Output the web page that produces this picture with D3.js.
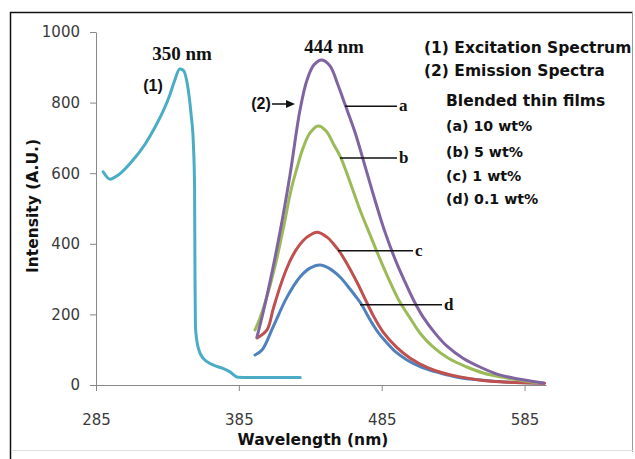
<!DOCTYPE html>
<html>
<head>
<meta charset="utf-8">
<script src="https://cdn.jsdelivr.net/npm/d3@7"></script>
<style>
  body { margin: 0; background: #fff; }
  svg { display: block; }
</style>
</head>
<body>
<script>
// (1) excitation spectrum
const excWl  = [290, 294.8, 300.6, 310, 319, 326, 333, 336.6, 340, 343.6, 346, 349.4, 351.5, 353.2, 354.0, 354.3, 354.6, 356.4, 359.9, 366.9, 373.8, 378.5, 384.3, 392.5, 428]
const excVal = [604, 583, 595, 633, 680, 728, 785, 821, 862, 895, 892, 841, 770, 680, 560, 300, 165, 108, 76, 57, 47, 38, 22, 21, 21]

// (2) emission spectra, blended thin films
const aWl  = [397.7, 401.9, 406.8, 413.8, 420.8, 427.8, 432.7, 437.6, 443.2, 448.8, 454.4, 459.3, 466.3, 471.9, 478.2, 485.9, 490.8, 495.7, 501.3, 507.6, 513.9, 522.3, 530.7, 541.9, 553.8, 565.7, 576.9, 598]
const aVal = [136, 204, 292, 433, 595, 779, 864, 907, 921, 904, 850, 795, 716, 640, 552, 450, 394, 343, 292, 238, 193, 147, 110, 76, 51, 31, 20, 6]

const bWl  = [396.3, 399.8, 405.4, 411.0, 416.6, 421.5, 425.7, 429.9, 434.8, 440.4, 446.0, 451.6, 456.5, 462.8, 469.8, 477.5, 481.7, 490.8, 497, 504.8, 512, 520.9, 532, 544.7, 556, 567.8, 593.7]
const bVal = [156, 190, 261, 348, 453, 552, 615, 671, 714, 734, 720, 680, 643, 575, 496, 419, 377, 292, 240, 190, 146, 108, 75, 51, 34, 23, 6]

const cWl  = [397.7, 404.7, 409, 413.8, 418.5, 422.9, 427.5, 432.7, 439.7, 446.7, 451, 455.8, 461.5, 467.7, 473, 478.9, 486, 495.7, 505, 516.7, 528, 539.8, 556, 572.7, 599]
const cVal = [133, 156, 215, 278, 330, 368, 397, 419, 433, 419, 401, 376, 338, 291, 247, 198, 150, 106, 76, 50, 34, 23, 13, 8, 5]

const dWl  = [396.3, 401.2, 408.9, 418.7, 427.8, 434.8, 441.8, 448.8, 455.8, 462.8, 467, 471.2, 475, 478.9, 483, 488.7, 495, 502.7, 513, 525.8, 538, 553.8, 575, 599]
const dVal = [85, 99, 164, 249, 306, 331, 340, 329, 306, 272, 250, 226, 198, 171, 146, 119, 93, 71, 50, 34, 22, 14, 8, 5]

const seriesNames = ["a", "b", "c", "d"]
const xTicks = [285, 385, 485, 585]
const yTicks = [0, 200, 400, 600, 800, 1000]
const legendText = ["(1) Excitation Spectrum", "(2) Emission Spectra", "Blended thin films", "(a) 10 wt%", "(b) 5 wt%", "(c) 1 wt%", "(d) 0.1 wt%"]
const peakText = ["350 nm", "444 nm"]

const width = 635
const height = 459

const svg = d3.select("body")
    .append("svg")
    .attr("width", width)
    .attr("height", height)

const x = d3.scaleLinear().domain([285, 600]).range([96, 546])
const y = d3.scaleLinear().domain([0, 1000]).range([385, 32])

// frame
svg.append("path").attr("d", "M10.5,459 V12.5 H633").attr("fill", "none").attr("stroke", "#111").attr("stroke-width", 1.5)
svg.append("line").attr("x1", 632.5).attr("x2", 632.5).attr("y1", 12).attr("y2", 452).attr("stroke", "#999")
svg.append("line").attr("x1", 11).attr("x2", 633).attr("y1", 450.5).attr("y2", 450.5).attr("stroke", "#ddd")

const yAxis = svg.append("g")
    .attr("transform", "translate(96,0)")
    .call(d3.axisLeft(y).tickValues(yTicks).tickFormat(d3.format("d")).tickSize(6).tickSizeOuter(0).tickPadding(10))
const xAxis = svg.append("g")
    .attr("transform", "translate(0,385)")
    .call(d3.axisBottom(x).tickValues(xTicks).tickFormat(d3.format("d")).tickSize(6).tickSizeOuter(0).tickPadding(23))
;[yAxis, xAxis].forEach((g) => {
    g.select(".domain").attr("stroke", "#888")
    g.selectAll(".tick line").attr("stroke", "#888")
    g.selectAll(".tick text")
        .attr("fill", "#3a3a3a")
        .style("font-family", "DejaVu Sans, sans-serif")
        .style("font-size", "15px")
})

svg.append("text")
    .attr("transform", "translate(38,206) rotate(-90)")
    .attr("text-anchor", "middle")
    .style("font", "bold 15.5px 'DejaVu Sans', sans-serif")
    .attr("fill", "#111")
    .text("Intensity (A.U.)")
svg.append("text")
    .attr("x", 313).attr("y", 445)
    .attr("text-anchor", "middle")
    .style("font", "bold 15.5px 'DejaVu Sans', sans-serif")
    .attr("fill", "#111")
    .text("Wavelength (nm)")

const excLine = d3.line()
    .x((d) => x(d[0]))
    .y((d) => y(d[1]))
    .curve(d3.curveMonotoneX)
const emLine = d3.line()
    .x((d) => x(d[0]))
    .y((d) => y(d[1]))
    .curve(d3.curveCatmullRom.alpha(0.5))

const curves = [
    { wl: excWl, val: excVal, color: "#4bacc6", line: excLine },
    { wl: dWl, val: dVal, color: "#4f81bd", line: emLine },
    { wl: cWl, val: cVal, color: "#c0504d", line: emLine },
    { wl: bWl, val: bVal, color: "#9bbb59", line: emLine },
    { wl: aWl, val: aVal, color: "#8064a2", line: emLine },
]
svg.selectAll("path.spec")
    .data(curves)
    .join("path")
    .attr("class", "spec")
    .attr("fill", "none")
    .attr("stroke", (d) => d.color)
    .attr("stroke-width", 3)
    .attr("stroke-linejoin", "round")
    .attr("stroke-linecap", "round")
    .attr("d", (d) => d.line(d3.zip(d.wl, d.val)))

// leader lines to the curve letters (wavelength from, to, intensity)
const leaders = [[459.3, 495.7, 790], [455.8, 495.7, 643], [454.4, 506.9, 380], [469.8, 527.2, 227]]
const g = svg.append("g")
leaders.forEach((l, i) => {
    g.append("line")
        .attr("x1", x(l[0])).attr("x2", x(l[1]))
        .attr("y1", y(l[2])).attr("y2", y(l[2]))
        .attr("stroke", "#111").attr("stroke-width", 1.5)
    g.append("text")
        .attr("x", x(l[1]) + 2).attr("y", y(l[2]))
        .attr("dy", "0.3em")
        .style("font", "bold 17px 'Liberation Serif', serif")
        .attr("fill", "#111")
        .text(seriesNames[i])
})

// peak labels
svg.append("text").attr("x", 182).attr("y", 60).attr("text-anchor", "middle")
    .style("font", "bold 19px 'Liberation Serif', serif").attr("fill", "#111").text(peakText[0])
svg.append("text").attr("x", 334).attr("y", 53).attr("text-anchor", "middle")
    .style("font", "bold 19px 'Liberation Serif', serif").attr("fill", "#111").text(peakText[1])
svg.append("text").attr("x", 153).attr("y", 91).attr("text-anchor", "middle")
    .style("font", "bold 16px 'Liberation Sans Narrow', 'Liberation Sans', sans-serif").attr("fill", "#111").text("(1)")
svg.append("text").attr("x", 261).attr("y", 109).attr("text-anchor", "middle")
    .style("font", "bold 16px 'Liberation Sans Narrow', 'Liberation Sans', sans-serif").attr("fill", "#111").text("(2)")
svg.append("line").attr("x1", 272).attr("x2", 287).attr("y1", 104).attr("y2", 104)
    .attr("stroke", "#111").attr("stroke-width", 1.5)
svg.append("path").attr("d", "M286,100 L295,104 L286,108 Z").attr("fill", "#111")

// legend block
const legendY = [53, 76, 106, 131, 157, 181, 204]
svg.selectAll("text.legend")
    .data(legendText)
    .join("text")
    .attr("class", "legend")
    .attr("x", (_, i) => i < 2 ? 424 : 446)
    .attr("y", (_, i) => legendY[i])
    .style("font-family", "'DejaVu Sans', sans-serif")
    .style("font-weight", "bold")
    .style("font-size", (_, i) => i < 3 ? "15.5px" : "14.2px")
    .attr("fill", "#111")
    .text((d) => d)
</script>
</body>
</html>
